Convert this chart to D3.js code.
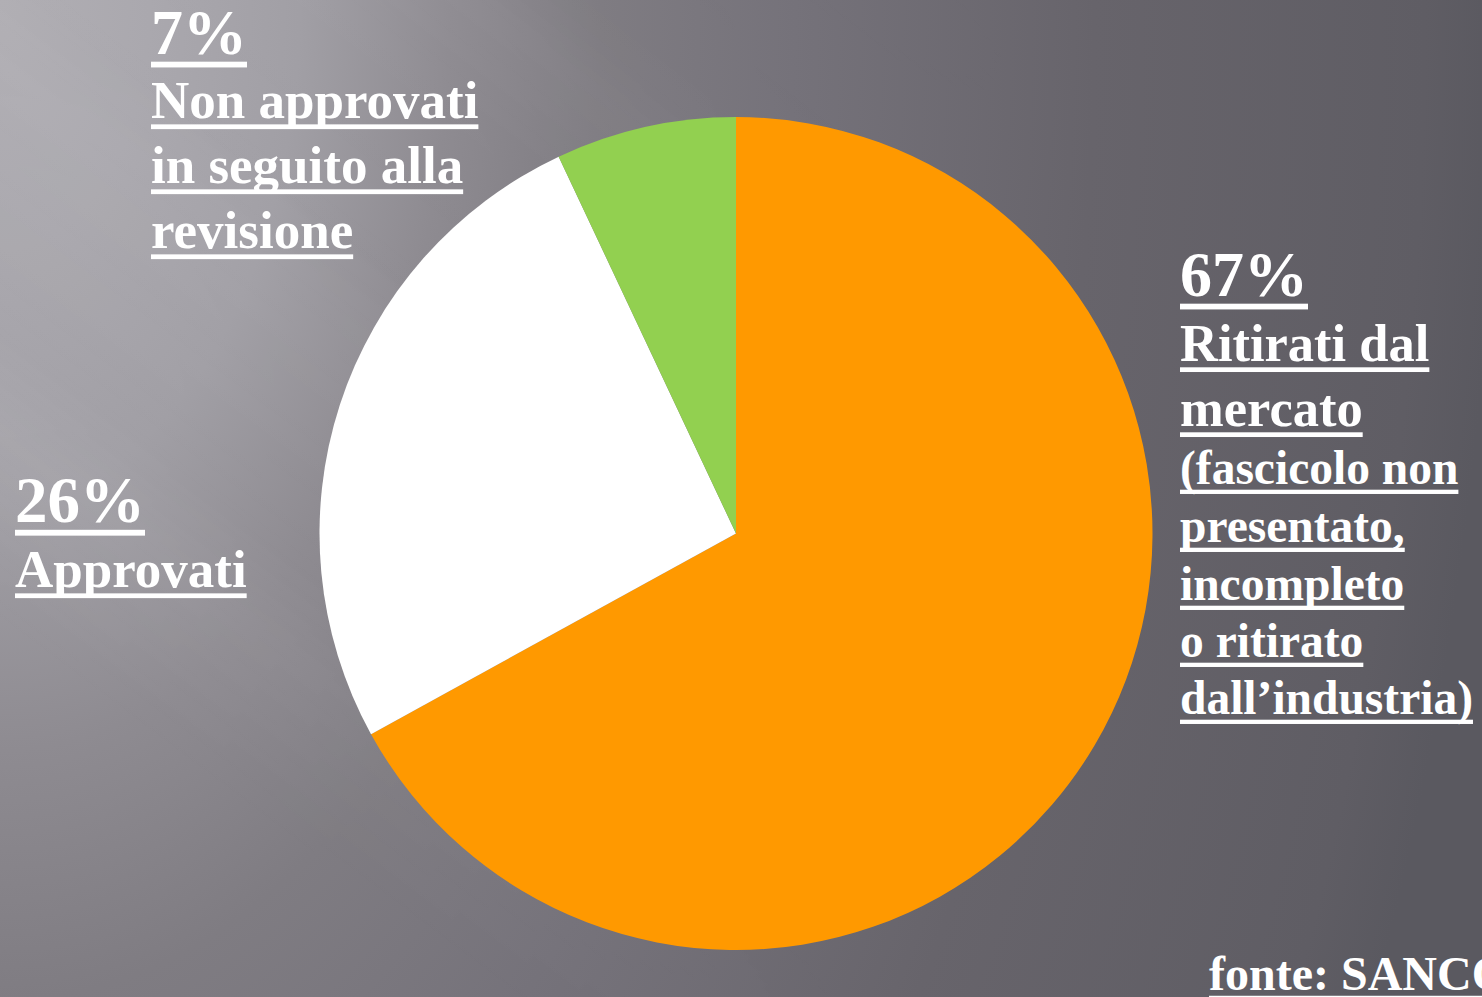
<!DOCTYPE html>
<html>
<head>
<meta charset="utf-8">
<script src="https://cdn.jsdelivr.net/npm/d3@7"></script>
<style>
  html, body { margin: 0; padding: 0; overflow: hidden; background: #6a686e; }
  svg { display: block; }
  text { font-family: "Liberation Serif", "Times New Roman", serif; font-weight: bold; fill: #ffffff; }
</style>
</head>
<body>
<svg id="chart" width="1482" height="997"></svg>
<script>
// Esito delle domande di autorizzazione (percentuali)
const categories = ["Ritirati dal mercato", "Approvati", "Non approvati in seguito alla revisione"];
const values = [67, 26, 7];
const colors = ["#ff9900", "#ffffff", "#92d050"];

// Testo delle etichette, riga per riga (la prima riga è la percentuale)
const labelLines = [
  ["67%", "Ritirati dal", "mercato", "(fascicolo non", "presentato,", "incompleto", "o ritirato", "dall\u2019industria)"],
  ["26%", "Approvati"],
  ["7%", "Non approvati", "in seguito alla", "revisione"]
];
const sourceNote = "fonte: SANCO";

const W = 1482, H = 997;
const svg = d3.select("#chart");
const defs = svg.append("defs");

// Sfondo: grigio sfumato ellittico, più chiaro in alto a sinistra
const bg = defs.append("radialGradient").attr("id", "bgGrad")
  .attr("gradientUnits", "userSpaceOnUse")
  .attr("cx", 0).attr("cy", 0).attr("r", 1)
  .attr("gradientTransform", "scale(1500,2500)");
[[0, "#b1afb4"], [0.1, "#aaa8ae"], [0.2, "#a19fa5"], [0.3, "#8e8b91"], [0.4, "#7f7c82"], [0.53, "#75727a"], [0.73, "#67646b"], [0.95, "#5f5d64"], [1.05, "#5a5960"]]
  .forEach(([o, c]) => bg.append("stop").attr("offset", Math.min(o, 1)).attr("stop-color", c));
svg.append("rect").attr("width", W).attr("height", H).attr("fill", "url(#bgGrad)");

// Riflessi diagonali sullo sfondo
const streak = defs.append("linearGradient").attr("id", "streakGrad")
  .attr("gradientUnits", "userSpaceOnUse")
  .attr("x1", 0).attr("y1", 0).attr("x2", 700).attr("y2", -900);
[[0, 0], [0.18, 0.02], [0.26, 0.07], [0.3, 0.02], [0.42, 0.0], [0.5, 0.05], [0.56, 0.0], [0.66, 0.04], [0.72, 0.0], [1, 0]]
  .forEach(([o, a]) => streak.append("stop").attr("offset", o).attr("stop-color", "#ffffff").attr("stop-opacity", a));
const streakGrad2 = defs.append("linearGradient").attr("id", "streakGrad2")
  .attr("gradientUnits", "userSpaceOnUse")
  .attr("x1", 0).attr("y1", 997).attr("x2", 900).attr("y2", -200);
[[0, 0], [0.2, 0.0], [0.3, 0.06], [0.36, 0.0], [0.5, 0.04], [0.56, 0.0], [1, 0]]
  .forEach(([o, a]) => streakGrad2.append("stop").attr("offset", o).attr("stop-color", "#ffffff").attr("stop-opacity", a));
const fade = defs.append("radialGradient").attr("id", "fadeGrad")
  .attr("gradientUnits", "userSpaceOnUse")
  .attr("cx", 0).attr("cy", 400).attr("r", 1100);
fade.append("stop").attr("offset", 0).attr("stop-color", "#fff");
fade.append("stop").attr("offset", 1).attr("stop-color", "#000");
defs.append("mask").attr("id", "fadeMask")
  .append("rect").attr("width", W).attr("height", H).attr("fill", "url(#fadeGrad)");
svg.append("rect").attr("width", W).attr("height", H).attr("fill", "url(#streakGrad)").attr("mask", "url(#fadeMask)");
svg.append("rect").attr("width", W).attr("height", H).attr("fill", "url(#streakGrad2)").attr("mask", "url(#fadeMask)");

// Torta
const cx = 736, cy = 533.5, radius = 416.5;
const pie = d3.pie().sort(null).value(d => d.value);
const arc = d3.arc().innerRadius(0).outerRadius(radius);
const slices = categories.map((c, i) => ({ name: c, value: values[i], color: colors[i] }));

svg.append("g").attr("transform", `translate(${cx},${cy})`)
  .selectAll("path").data(pie(slices)).join("path")
  .attr("d", arc)
  .attr("fill", d => d.data.color);

// Etichette sottolineate
function drawLabel(lines, x, baselines, sizes) {
  const g = svg.append("g");
  lines.forEach((t, i) => {
    const size = sizes[i];
    const txt = g.append("text")
      .attr("x", x).attr("y", baselines[i])
      .style("font-size", size + "px")
      .text(t);
    const w = txt.node().getComputedTextLength();
    g.append("rect")
      .attr("x", x).attr("y", baselines[i] + size * 0.165 - size * 0.045)
      .attr("width", w).attr("height", size * 0.09)
      .attr("fill", "#ffffff");
  });
}

drawLabel(labelLines[0], 1180,
  [296, 361, 426, 484, 542, 600, 657, 714],
  [64, 52.5, 52.5, 47.5, 47.5, 47.5, 47.5, 47.5]);
drawLabel(labelLines[1], 15, [522, 587], [65, 53]);
drawLabel(labelLines[2], 151, [54, 118, 183, 248], [64, 53, 53, 53]);
drawLabel([sourceNote], 1209, [990], [48]);
</script>
</body>
</html>
